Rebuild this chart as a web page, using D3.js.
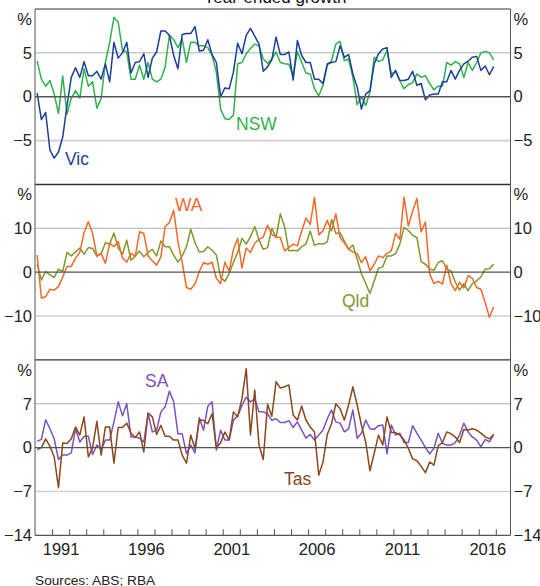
<!DOCTYPE html>
<html><head><meta charset="utf-8">
<script src="https://cdn.jsdelivr.net/npm/d3@7"></script>
<style>
body{margin:0;background:#fff}
svg text{font-family:Arial,"Liberation Sans",sans-serif}
</style>
</head><body>
<svg id="chart" width="540" height="586"></svg>
<script>
// ---------- data (quarterly, year-ended growth, %) ----------
const startYear = 1990;          // first quarter: March 1990
const yearLabels = [1991, 1996, 2001, 2006, 2011, 2016];
const title = "Year-ended growth";
const source = "Sources: ABS; RBA";

const nsw = [4.05,2.0,1.2,1.85,0.3,-1.9,2.35,-2.0,-0.15,0.7,
 -0.15,3.2,1.2,1.7,-1.3,-0.2,3.9,6.2,9.05,8.5,
 5.3,5.1,2.0,2.0,3.6,2.0,3.9,2.0,1.7,2.0,
 3.4,7.0,6.5,5.6,6.6,3.9,6.2,6.2,5.8,5.8,
 5.6,4.7,2.8,-1.4,-2.5,-2.6,-2.1,3.75,3.9,4.9,
 5.5,6.0,5.8,4.3,3.8,4.3,5.1,3.9,3.75,3.7,
 2.4,5.15,3.9,2.7,2.6,0.9,0.1,1.3,3.6,4.1,
 6.0,6.3,4.1,4.3,2.2,-0.9,0.0,-1.0,0.5,4.5,
 4.0,4.2,5.3,2.6,2.9,1.85,0.9,1.4,1.6,2.6,
 2.2,2.4,1.5,0.8,1.2,1.2,3.9,3.6,4.0,3.75,
 2.2,3.9,3.0,3.9,5.0,5.15,5.0,4.2];
const vic = [0.4,-2.6,-1.8,-6.1,-7.0,-6.3,-4.6,-1.0,2.2,3.3,
 2.2,4.0,2.4,2.4,2.9,2.0,3.75,1.7,6.2,4.4,
 5.0,6.2,2.7,3.9,4.0,4.9,2.2,4.4,5.1,7.5,
 7.5,7.0,4.7,3.2,7.1,7.2,7.2,8.0,5.2,5.3,
 6.5,4.8,3.9,0.0,1.0,0.9,2.8,6.1,4.9,7.0,
 7.8,6.9,6.0,2.9,3.4,4.2,6.8,4.8,4.8,5.1,
 1.9,6.4,4.7,3.9,3.9,2.0,2.0,1.5,3.75,3.9,
 4.0,5.8,4.5,4.8,2.6,1.1,-1.4,0.3,0.7,3.75,
 4.9,5.45,5.6,2.2,3.0,1.85,1.85,2.0,2.9,1.3,
 1.5,-0.35,0.2,0.3,0.3,1.7,1.7,3.0,2.0,3.0,
 3.75,4.05,4.5,4.6,3.0,3.5,2.5,3.45];
const qld = [1.8,-1.8,0.15,-0.6,-1.2,0.7,0.15,4.5,3.7,4.6,
 5.5,4.1,5.6,5.4,3.6,4.2,6.7,6.4,8.9,5.5,
 4.1,7.3,2.7,3.7,4.8,3.5,4.5,5.2,3.7,7.1,
 5.8,5.8,3.9,2.3,3.7,5.8,9.8,6.7,4.6,4.7,
 5.8,5.0,3.9,-1.2,-2.1,-0.3,2.2,4.5,7.7,6.4,
 8.1,10.4,7.3,5.2,5.6,10.0,7.9,13.3,10.3,4.85,
 5.0,4.85,5.8,6.4,9.4,6.1,6.5,6.4,6.9,12.0,
 8.8,9.0,7.1,5.2,6.2,3.0,-0.3,-2.6,-4.85,-2.0,
 0.9,1.2,3.7,3.7,4.2,6.4,10.2,9.5,8.4,7.9,
 2.4,1.8,0.7,0.45,2.2,2.6,0.7,0.3,-2.3,-4.1,
 -2.6,-4.2,-2.6,-2.0,-1.1,0.7,0.8,1.8];
const wa = [3.9,-5.9,-5.6,-3.9,-4.1,-3.3,-1.1,1.3,1.3,3.2,
 4.5,9.0,11.5,8.8,3.7,4.3,2.0,6.6,5.8,7.0,
 3.2,2.3,4.3,3.6,9.2,8.8,3.7,2.6,1.6,3.5,
 10.4,11.3,14.1,7.0,2.2,-3.5,-3.9,-2.7,0.15,2.2,
 1.8,2.3,-1.4,-2.6,2.3,0.15,5.1,7.7,0.9,5.5,
 4.5,6.6,7.5,8.0,10.7,8.6,8.0,7.9,4.85,5.6,
 6.4,6.0,9.4,12.3,10.9,17.0,8.5,9.4,11.8,9.4,
 13.3,7.9,6.7,5.2,4.6,4.2,2.2,3.5,0.3,1.8,
 3.7,3.3,4.3,4.85,8.8,7.5,17.1,10.5,13.9,16.8,
 9.2,11.4,-0.45,-2.6,-2.1,-2.7,1.6,-2.6,-4.2,-2.3,
 -3.6,-0.8,-1.4,-3.5,-3.9,-6.9,-10.3,-7.9];
const sa = [1.0,1.3,4.45,3.0,1.4,-1.9,-1.2,-1.2,-0.85,3.0,
 0.9,1.8,1.8,-1.1,0.4,-0.3,1.2,1.2,4.1,7.3,
 5.1,7.0,1.7,1.7,1.5,0.9,5.4,2.5,2.75,5.7,
 6.5,9.0,7.3,2.2,2.2,-0.95,0.4,-0.85,4.8,2.75,
 6.6,7.3,-0.4,2.75,1.2,1.2,4.35,5.1,6.7,8.05,
 7.3,7.8,5.7,5.7,5.4,4.35,4.6,4.0,4.0,4.3,
 3.2,4.1,2.8,1.5,2.1,1.2,2.0,2.8,4.6,6.0,
 4.1,3.9,2.5,3.0,6.0,1.5,2.3,4.4,3.0,2.9,
 3.5,3.6,-1.0,3.6,2.0,2.3,0.8,0.8,3.5,2.3,
 1.2,0.0,-1.0,-0.1,2.3,0.7,0.4,0.4,0.8,2.0,
 3.9,2.5,1.7,1.2,0.1,1.3,0.9,2.1];
const tas = [-0.3,0.0,1.4,0.2,-1.5,-6.4,0.75,0.65,1.4,3.3,
 2.0,4.9,-1.5,0.0,4.2,-1.2,3.3,3.3,-2.5,3.2,
 3.2,3.9,2.3,1.6,2.5,-0.7,5.5,4.9,2.1,3.55,
 1.8,1.8,1.2,1.2,-1.2,-2.5,2.0,-0.15,4.35,4.35,
 3.8,5.4,0.0,0.75,2.5,1.2,5.7,4.9,7.8,12.6,
 2.0,9.2,0.4,-1.9,6.9,5.0,10.5,9.5,9.7,10.0,
 5.2,4.4,6.65,4.4,3.3,2.5,-4.4,-2.3,2.1,3.8,
 7.0,6.2,4.4,6.8,9.7,6.8,3.6,0.9,-3.7,-0.9,
 2.0,0.4,4.9,2.4,2.4,2.0,1.2,-0.1,-1.8,-2.1,
 -3.0,-4.0,-2.3,-2.8,0.3,0.8,2.5,2.2,1.7,0.8,
 2.9,2.8,3.0,2.8,2.3,1.7,1.4,2.1];

const panelTicks = [[-5,0,5],[-10,0,10],[-7,0,7]];
const panelLimits = [10, 20, 14];

// ---------- layout ----------
const plotL = 35, plotR = 510.5, plotT = 9, plotB = 535.3;
const panelH = (plotB - plotT) / 3;
const svg = d3.select("#chart");
const fs = 16.5;
const FONT = "Arial, 'Liberation Sans', sans-serif";

const x = d3.scaleLinear().domain([startYear, 2017.86]).range([plotL, plotR]);
const dateOf = i => startYear + i * 0.25 + 0.125;

const panels = [
  {series:[{name:"NSW",values:nsw,color:"#2eb34b",lx:236,ly:130},
           {name:"Vic",values:vic,color:"#1b3f98",lx:65,ly:165}]},
  {series:[{name:"Qld",values:qld,color:"#7b9a2e",lx:342,ly:307},
           {name:"WA",values:wa,color:"#f4692a",lx:175,ly:211}]},
  {series:[{name:"SA",values:sa,color:"#7a52c2",lx:145,ly:387},
           {name:"Tas",values:tas,color:"#8c471c",lx:284,ly:485}]}
];

// title (partly cut off at top)
svg.append("text").attr("x", 275).attr("y", 3).attr("text-anchor","middle")
  .attr("font-size", 17).attr("fill","#111").text(title);

panels.forEach((p, k) => {
  const pt = plotT + k * panelH, pb = pt + panelH;
  const lim = panelLimits[k];
  const y = d3.scaleLinear().domain([-lim, lim]).range([pb, pt]);
  const g = svg.append("g");

  // gridlines
  panelTicks[k].filter(v => v !== 0).forEach(v => {
    g.append("line").attr("x1", plotL).attr("x2", plotR)
      .attr("y1", y(v)).attr("y2", y(v))
      .attr("stroke", v > 0 ? "#adadad" : "#cfcfcf").attr("stroke-width", v > 0 ? 1 : 1.6);
  });

  // left / right axes (labels)
  const showTicks = k === 2 ? [-14].concat(panelTicks[k]) : panelTicks[k];
  const axL = d3.axisLeft(y).tickValues(showTicks).tickSize(0).tickPadding(3).tickFormat(d3.format("d"));
  const axR = d3.axisRight(y).tickValues(showTicks).tickSize(0).tickPadding(3).tickFormat(d3.format("d"));
  const gl = g.append("g").attr("transform", `translate(${plotL},0)`).call(axL);
  const gr = g.append("g").attr("transform", `translate(${plotR},0)`).call(axR);
  [gl, gr].forEach(a => {
    a.select(".domain").remove();
    a.selectAll("text").attr("font-size", fs).attr("fill", "#222").attr("font-family", FONT);
  });
  // % unit labels
  g.append("text").attr("x", plotL - 3).attr("y", pt + 10).attr("dy","0.35em")
    .attr("text-anchor","end").attr("font-size", fs).attr("fill","#222").text("%");
  g.append("text").attr("x", plotR + 3).attr("y", pt + 10).attr("dy","0.35em")
    .attr("text-anchor","start").attr("font-size", fs).attr("fill","#222").text("%");

  // series lines
  p.series.forEach(s => {
    const line = d3.line().x((d, i) => x(dateOf(i))).y(d => y(d));
    g.append("path").datum(s.values).attr("d", line)
      .attr("fill","none").attr("stroke", s.color).attr("stroke-width", 1.5)
      .attr("stroke-linejoin","round");
  });

  // zero line
  g.append("line").attr("x1", plotL).attr("x2", plotR)
    .attr("y1", y(0)).attr("y2", y(0)).attr("stroke", "#555").attr("stroke-width", 1.4);

  // series labels
  p.series.forEach(s => {
    g.append("text").attr("x", s.lx).attr("y", s.ly).attr("font-size", 17.5)
      .attr("fill", s.color).text(s.name);
  });

  // top border / divider
  g.append("line").attr("x1", plotL).attr("x2", plotR).attr("y1", pt).attr("y2", pt)
    .attr("stroke", "#333").attr("stroke-width", k === 0 ? 1 : 1.4);
});

// side borders
svg.append("line").attr("x1", plotL).attr("x2", plotL).attr("y1", plotT).attr("y2", plotB)
  .attr("stroke","#555").attr("stroke-width",1);
svg.append("line").attr("x1", plotR).attr("x2", plotR).attr("y1", plotT).attr("y2", plotB)
  .attr("stroke","#555").attr("stroke-width",1);

// bottom axis: year tick marks at year starts
const tickYears = d3.range(1991, 2018);
const axTicks = d3.axisBottom(x).tickValues(tickYears).tickSize(-6).tickFormat("");
const gt = svg.append("g").attr("transform", `translate(0,${plotB})`).call(axTicks);
gt.select(".domain").remove();
gt.selectAll("line").attr("stroke","#555");
svg.append("line").attr("x1", plotL).attr("x2", plotR).attr("y1", plotB).attr("y2", plotB)
  .attr("stroke","#555").attr("stroke-width",1.2);

// year labels at mid-year
const axLab = d3.axisBottom(x).tickValues(yearLabels.map(v => v + 0.5)).tickSize(0).tickPadding(8)
  .tickFormat(d => String(Math.floor(d)));
const gy = svg.append("g").attr("transform", `translate(0,${plotB})`).call(axLab);
gy.select(".domain").remove();
gy.selectAll("text").attr("font-size", fs).attr("fill","#222").attr("font-family", FONT);

// source
svg.append("text").attr("x", 35).attr("y", 584.5).attr("font-size", 13.7)
  .attr("fill","#222").text(source);
</script>
</body></html>
